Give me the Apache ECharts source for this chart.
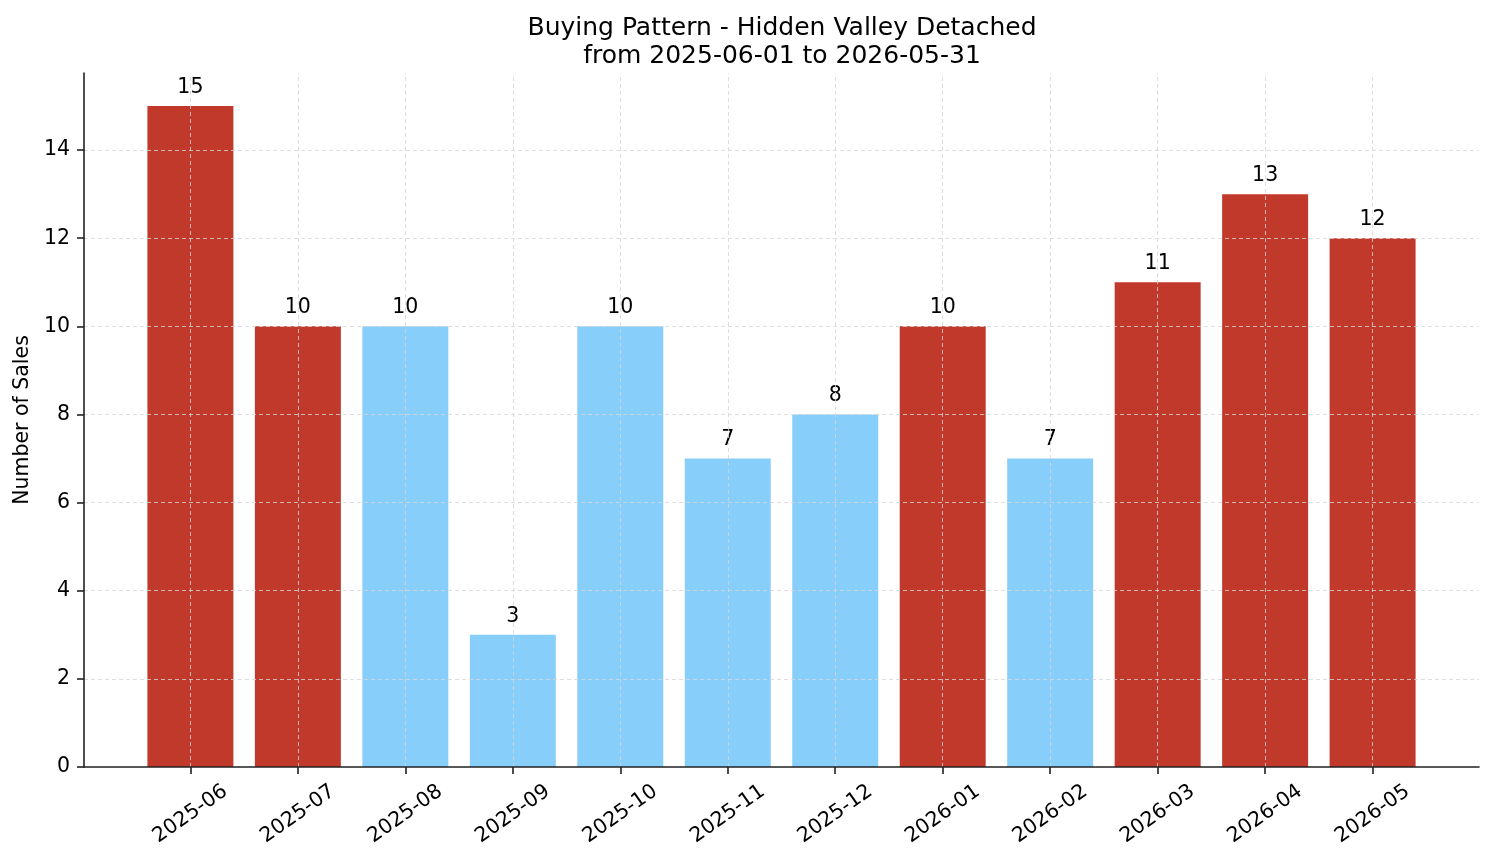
<!DOCTYPE html>
<html>
<head>
<meta charset="utf-8">
<script src="https://cdn.jsdelivr.net/npm/echarts@6/dist/echarts.min.js"></script>
<style>html,body{margin:0;padding:0;background:#fff;}#c{width:1494px;height:863px;}</style>
</head>
<body>
<div id="c"></div>
<script>
const months = ['2025-06','2025-07','2025-08','2025-09','2025-10','2025-11','2025-12','2026-01','2026-02','2026-03','2026-04','2026-05'];
const sales = [15, 10, 10, 3, 10, 7, 8, 10, 7, 11, 13, 12];
const marketType = ['hot','hot','cool','cool','cool','cool','cool','hot','cool','hot','hot','hot'];
const yTicks = [0, 2, 4, 6, 8, 10, 12, 14];
const titleText = 'Buying Pattern - Hidden Valley Detached\nfrom 2025-06-01 to 2026-05-31';
const yName = 'Number of Sales';

const colorMap = { hot: '#c0392b', cool: '#87cefa' };
const FONT = 'DejaVu Sans';
const idx = months.map((m, i) => i);

const chart = echarts.init(document.getElementById('c'), null, { renderer: 'canvas' });
const gridStyle = { color: '#d6d6d6', type: [4, 3], width: 0.8 };
const G = { left: 84, right: 15, top: 73, bottom: 96 };

chart.setOption({
  animation: false,
  backgroundColor: '#ffffff',
  title: {
    text: titleText,
    left: 777,
    textAlign: 'center',
    top: 9,
    textStyle: { fontFamily: FONT, fontSize: 25, fontWeight: 'normal', color: '#000', lineHeight: 28 }
  },
  grid: { left: G.left, right: G.right, top: G.top, bottom: G.bottom, containLabel: false },
  xAxis: {
    type: 'value',
    min: -0.99,
    max: 11.99,
    z: 10,
    axisLine: { show: true, onZero: false, lineStyle: { color: '#222', width: 1.6 } },
    axisTick: { show: true, customValues: idx, length: 7, lineStyle: { color: '#222', width: 1.6 } },
    axisLabel: {
      customValues: idx,
      formatter: v => months[Math.round(v)],
      rotate: 35,
      align: 'center',
      verticalAlign: 'middle',
      margin: 47,
      fontFamily: FONT,
      fontSize: 20.5,
      color: '#000'
    },
    splitLine: { show: false }
  },
  yAxis: {
    type: 'value',
    min: 0,
    max: 15.75,
    z: 10,
    name: yName,
    nameLocation: 'middle',
    nameGap: 49,
    nameTextStyle: { fontFamily: FONT, fontSize: 20.5, color: '#000' },
    axisLine: { show: true, onZero: false, lineStyle: { color: '#222', width: 1.6 } },
    axisTick: { show: true, customValues: yTicks, length: 7, lineStyle: { color: '#222', width: 1.6 } },
    axisLabel: {
      customValues: yTicks,
      formatter: v => String(v),
      margin: 14,
      fontFamily: FONT,
      fontSize: 20.5,
      color: '#000'
    },
    splitLine: { show: false }
  },
  series: [{
    type: 'bar',
    barWidth: '80%',
    data: sales.map((v, i) => ({ value: [i, v], itemStyle: { color: colorMap[marketType[i]] } })),
    label: {
      show: true,
      position: 'top',
      distance: 8,
      formatter: p => String(p.value[1]),
      fontFamily: FONT,
      fontSize: 20.5,
      color: '#000'
    },
    markLine: {
      silent: true,
      symbol: 'none',
      label: { show: false },
      lineStyle: gridStyle,
      emphasis: { disabled: true },
      data: idx.map(i => ({ xAxis: i })).concat(yTicks.filter(v => v > 0).map(v => ({ yAxis: v })))
    }
  }]
});
</script>
</body>
</html>
